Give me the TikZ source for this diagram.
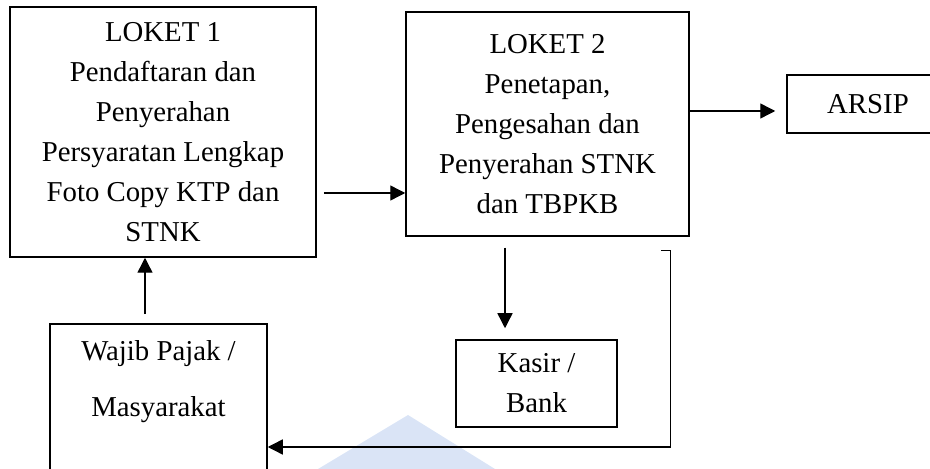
\documentclass[tikz,border=0pt]{standalone}
\usepackage{fontspec}
\setmainfont{Liberation Serif}
\usetikzlibrary{arrows.meta}
\definecolor{wmblue}{RGB}{218,228,246}

\begin{document}
\begin{tikzpicture}[x=1pt, y=1pt,
        main/.style = {draw, rectangle, line width=1.5pt, align=center, inner sep=0pt, font=\fontsize{28.8}{40}\selectfont},
        ar/.style={line width=1.4pt, -{Triangle[length=15pt, width=15pt]}}]
        \useasboundingbox (0,0) rectangle (930,469);
        \clip (0,0) rectangle (930,469);

        % watermark
        \fill[wmblue] (318,0) -- (408,54) -- (495,0) -- cycle;

        \node[main, minimum width=306pt, minimum height=250pt] (loket1) at (163,337) {LOKET 1\\Pendaftaran dan\\Penyerahan\\Persyaratan Lengkap\\Foto Copy KTP dan\\STNK};
        \node[main, minimum width=283pt, minimum height=224pt] (loket2) at (547.5,345) {LOKET 2\\Penetapan,\\Pengesahan dan\\Penyerahan STNK\\dan TBPKB};
        \node[main, minimum width=162pt, minimum height=58pt] (arsip) at (868,365) {ARSIP};

        \node[main, minimum width=217pt, minimum height=176pt] (wajib) at (158.5,57) {};
        \node[align=center, font=\fontsize{28.8}{56}\selectfont] (wajibtext) at (158.5,87) {Wajib Pajak /\\Masyarakat};
        \node[main, minimum width=161pt, minimum height=87pt] (kasir) at (536.5,85.5) {Kasir /\\Bank};

        \draw[ar] ([xshift=7pt, yshift=-61pt]loket1.east) -- ([yshift=-69pt]loket2.west);
        \draw[ar] ([yshift=13pt]loket2.east) -- ([xshift=-11pt, yshift=-7pt]arsip.west);
        \draw[ar] ([xshift=-13.5pt, yshift=9pt]wajib.north) -- ([xshift=-18pt]loket1.south);
        \draw[ar] ([xshift=-42.5pt, yshift=-11pt]loket2.south) -- ([xshift=-31.5pt, yshift=11pt]kasir.north);
        \draw[ar] ([xshift=-29pt, yshift=-14pt]loket2.south east) -- ++(10,0) |- ([yshift=-35pt]wajib.east);
    \end{tikzpicture}
\end{document}
